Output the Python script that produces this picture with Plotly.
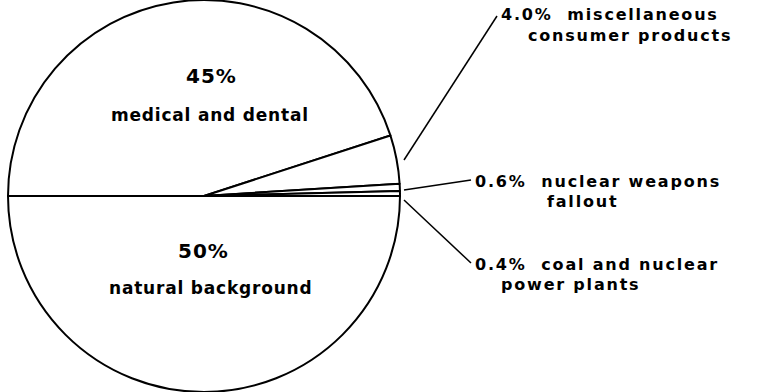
import plotly.graph_objects as go

# Sources of average radiation dose, share of total (%)
sources = [
    "medical and dental",
    "miscellaneous consumer products",
    "nuclear weapons fallout",
    "coal and nuclear power plants",
    "natural background",
]
shares = [45, 4.0, 0.6, 0.4, 50]
share_text = ["45%", "4.0%", "0.6%", "0.4%", "50%"]

W, H = 759, 392
FONT = "DejaVu Sans"


def px(x):
    return x / W


def py(y):
    return 1 - y / H


def spaced(text, gap):
    return f'<span style="letter-spacing:{gap}px"><b>{text}</b></span>'


fig = go.Figure(
    go.Pie(
        labels=sources,
        values=shares,
        sort=False,
        direction="clockwise",
        rotation=270,
        textinfo="none",
        hoverinfo="label+percent",
        marker=dict(colors=["white"] * len(shares), line=dict(color="black", width=2)),
        domain=dict(x=[px(7), px(401)], y=[0, 1]),
        showlegend=False,
    )
)

annotations = []
# labels inside the two large slices
inside = [
    (share_text[0], 212, 76, 20, 1.0),
    (sources[0], 210, 115, 17, 0.8),
    (share_text[4], 203, 251, 20, 1.0),
    (sources[4], 210, 288, 17, 0.8),
]
for text, x, y, size, gap in inside:
    annotations.append(dict(
        text=spaced(text, gap), x=px(x), y=py(y), xref="paper", yref="paper",
        showarrow=False, xanchor="center", yanchor="middle",
        font=dict(family=FONT, size=size, color="black"),
    ))

# call-out labels for the three small slices
callouts = [
    (f"{share_text[1]}  miscellaneous", 499, 15, "consumer products", 526, 35),
    (f"{share_text[2]}  nuclear weapons", 473, 181, "fallout", 545, 201),
    (f"{share_text[3]}  coal and nuclear", 473, 264, "power plants", 499, 284),
]
for line1, x1, y1, line2, x2, y2 in callouts:
    for text, x, y in ((line1, x1, y1), (line2, x2, y2)):
        annotations.append(dict(
            text=spaced(text, 1.8), x=px(x), y=py(y), xref="paper", yref="paper",
            showarrow=False, xanchor="left", yanchor="middle",
            font=dict(family=FONT, size=16, color="black"),
        ))

# leader lines from the labels to the pie edge
leaders = [
    (497, 16, 404, 160),
    (471, 180, 404, 190),
    (471, 263, 404, 200),
]
shapes = [
    dict(type="line", xref="paper", yref="paper",
         x0=px(a), y0=py(b), x1=px(c), y1=py(d),
         line=dict(color="black", width=1.5))
    for a, b, c, d in leaders
]

fig.update_layout(
    width=W,
    height=H,
    margin=dict(l=0, r=0, t=0, b=0),
    paper_bgcolor="white",
    plot_bgcolor="white",
    annotations=annotations,
    shapes=shapes,
)

fig.write_html("out.html")
